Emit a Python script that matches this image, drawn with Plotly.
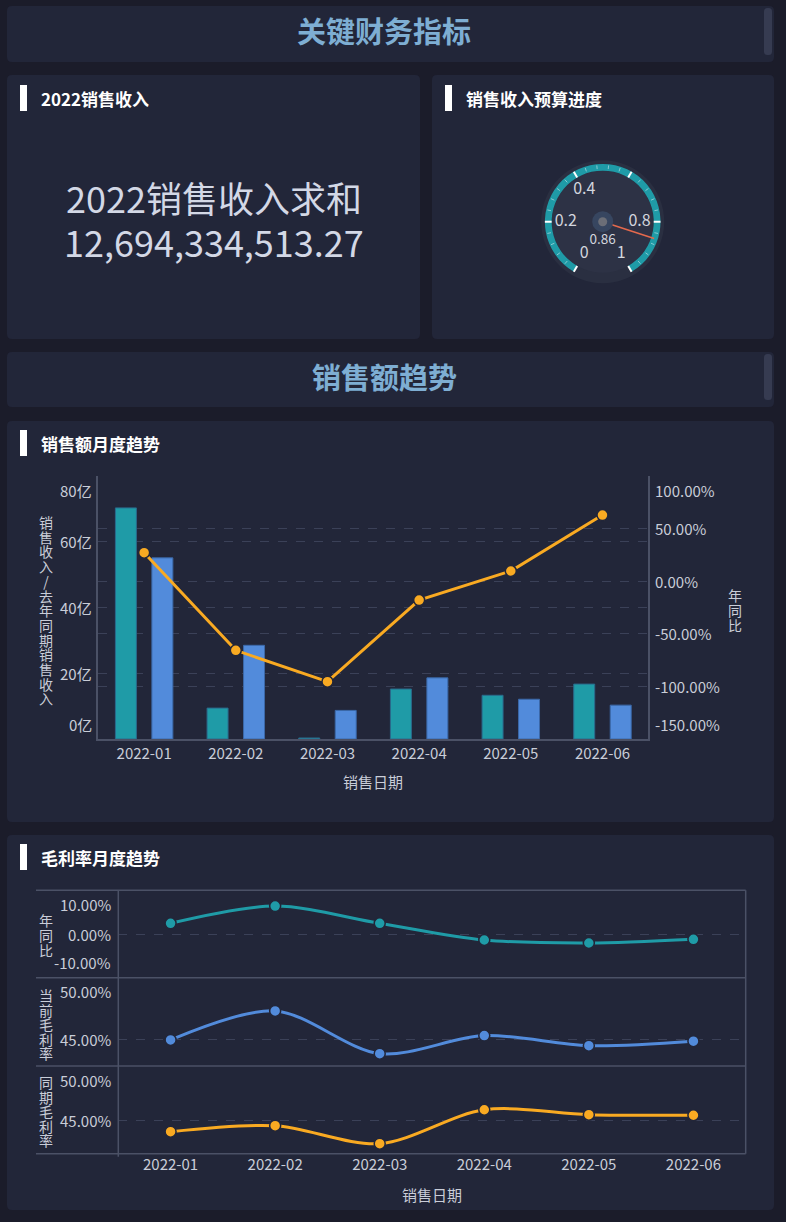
import plotly.graph_objects as go

W, H = 786, 1222
PAGE_BG = "#1b1c2a"
PANEL_BG = "#222639"
THUMB = "#363b51"
TEAL = "#1f9ba7"
BLUE = "#528bdb"
ORANGE = "#f9aa22"
TXT = "#c9cdd8"
GRID = "#3b4158"
FRAME = "#4b5166"
FONT = "Noto Sans CJK SC"

# ---------------- data ----------------
months = ["2022-01", "2022-02", "2022-03", "2022-04", "2022-05", "2022-06"]
sales_2022 = [70.3e8, 9.4e8, 0.3e8, 15.2e8, 13.3e8, 16.7e8]
sales_2021 = [55.1e8, 28.5e8, 8.7e8, 18.6e8, 12.1e8, 10.3e8]
sales_yoy = [0.271, -0.657, -0.955, -0.179, 0.097, 0.629]
sales_ticks = [0, 20e8, 40e8, 60e8, 80e8]
yoy_ticks = [-1.5, -1.0, -0.5, 0.0, 0.5, 1.0]

gm_yoy = [0.0245, 0.0640, 0.0245, -0.0137, -0.0206, -0.0121]
gm_current = [0.4500, 0.4733, 0.4390, 0.4535, 0.4454, 0.4490]
gm_last = [0.4392, 0.4447, 0.4281, 0.4595, 0.4549, 0.4544]
gm_yoy_range = [-0.10, 0.10]
gm_cur_range = [0.4291, 0.50]
gm_last_range = [0.4188, 0.50]
gm_yoy_ticks = [-0.10, 0.0, 0.10]
gm_cur_ticks = [0.45, 0.50]
gm_last_ticks = [0.45, 0.50]

kpi_title = "2022销售收入求和"
kpi_value = "12,694,334,513.27"
budget_progress = 0.86
gauge_major = [0, 0.2, 0.4, 0.6, 0.8, 1.0]
gauge_shown_labels = [0, 0.2, 0.4, 0.8, 1.0]
GAUGE_SWEEP = 300  # degrees

# ---------------- helpers ----------------
def fx(x):
    return x / W

def fy(y):
    return 1 - y / H

def rrect(x0, y0, x1, y1, r, color):
    X, Y = fx, fy
    p = (f"M {X(x0+r)},{Y(y0)} L {X(x1-r)},{Y(y0)} Q {X(x1)},{Y(y0)} {X(x1)},{Y(y0+r)} "
         f"L {X(x1)},{Y(y1-r)} Q {X(x1)},{Y(y1)} {X(x1-r)},{Y(y1)} "
         f"L {X(x0+r)},{Y(y1)} Q {X(x0)},{Y(y1)} {X(x0)},{Y(y1-r)} "
         f"L {X(x0)},{Y(y0+r)} Q {X(x0)},{Y(y0)} {X(x0+r)},{Y(y0)} Z")
    return dict(type="path", xref="paper", yref="paper", path=p, fillcolor=color,
                line=dict(width=0), layer="below")

annotations = []

def ann(text, x, y, size=15, color=TXT, xanchor="center", yanchor="middle",
        xref="paper", yref="paper", yshift=0, bold=False):
    annotations.append(dict(
        text=f"<b>{text}</b>" if bold else text, x=x, y=y, xref=xref, yref=yref,
        xanchor=xanchor, yanchor=yanchor, yshift=yshift, showarrow=False,
        font=dict(family=FONT, size=size, color=color)))

def vtext(text, xpx, ycenter, spacing, size=14):
    # vertical (stacked) text: line spacing set by base font, glyphs drawn at `size`
    base = spacing / 1.3
    body = "<br>".join(f'<span style="font-size:{size}px">{ch}</span>' for ch in text)
    ann(body, fx(xpx), fy(ycenter), size=base)

shapes = []
# panels
for (x0, y0, x1, y1) in [(7, 6, 774, 62), (7, 75, 420, 339), (432, 75, 774, 339),
                         (7, 352, 774, 407), (7, 421, 774, 822), (7, 835, 774, 1210)]:
    shapes.append(rrect(x0, y0, x1, y1, 5, PANEL_BG))
# scroll thumbs in header panels
shapes.append(rrect(764, 8, 772, 55, 3.5, THUMB))
shapes.append(rrect(764, 354, 772, 400, 3.5, THUMB))
# title accent bars
for (x0, y0) in [(20, 85), (445, 85), (20, 430), (20, 844)]:
    shapes.append(dict(type="rect", xref="paper", yref="paper", x0=fx(x0), x1=fx(x0 + 7),
                       y0=fy(y0), y1=fy(y0 + 26), fillcolor="#ffffff", line=dict(width=0),
                       layer="below"))

# headers & panel titles
ann("关键财务指标", fx(384), fy(30), size=29, color="#7eaed3", bold=True)
ann("销售额趋势", fx(384), fy(376), size=29, color="#7eaed3", bold=True)
ann("2022销售收入", fx(38.5), fy(98), size=17, color="#ffffff", xanchor="left", bold=True)
ann("销售收入预算进度", fx(463.5), fy(98), size=17, color="#ffffff", xanchor="left", bold=True)
ann("销售额月度趋势", fx(38.5), fy(443), size=17, color="#ffffff", xanchor="left", bold=True)
ann("毛利率月度趋势", fx(38.5), fy(857), size=17, color="#ffffff", xanchor="left", bold=True)

# KPI
ann(kpi_title, fx(213.5), fy(197), size=36, color="#d3d8e6")
ann(kpi_value, fx(213.5), fy(241), size=36, color="#d3d8e6")

fig = go.Figure()

# ---------------- gauge (polar) ----------------
GCX, GCY, GR = 602.7, 221.7, 61.5
shapes.append(dict(type="circle", xref="paper", yref="paper",
                   x0=fx(GCX - GR), x1=fx(GCX + GR), y0=fy(GCY + GR), y1=fy(GCY - GR),
                   fillcolor="#2a2f41", line=dict(width=0), layer="below"))
shapes.append(dict(type="circle", xref="paper", yref="paper",
                   x0=fx(GCX - GR * 0.83), x1=fx(GCX + GR * 0.83),
                   y0=fy(GCY + GR * 0.83), y1=fy(GCY - GR * 0.83),
                   fillcolor="#2d3245", line=dict(width=0), layer="below"))

fig.add_trace(go.Barpolar(r=[0.11], base=[0.83], theta=[GAUGE_SWEEP / 2], width=[GAUGE_SWEEP],
                          marker=dict(color=TEAL, line=dict(width=0)), subplot="polar",
                          hoverinfo="skip"))
minor_r, minor_t = [], []
for i in range(26):
    v = i / 25
    if i % 5:
        minor_r += [0.86, 0.92, None]
        minor_t += [v * GAUGE_SWEEP, v * GAUGE_SWEEP, None]
fig.add_trace(go.Scatterpolar(r=minor_r, theta=minor_t, mode="lines", subplot="polar",
                              line=dict(color="rgba(220,240,245,0.55)", width=1),
                              hoverinfo="skip"))
major_r, major_t = [], []
for v in gauge_major:
    major_r += [0.83, 0.94, None]
    major_t += [v * GAUGE_SWEEP, v * GAUGE_SWEEP, None]
fig.add_trace(go.Scatterpolar(r=major_r, theta=major_t, mode="lines", subplot="polar",
                              line=dict(color="#ffffff", width=2), hoverinfo="skip"))
fig.add_trace(go.Scatterpolar(r=[0.6] * len(gauge_shown_labels),
                              theta=[v * GAUGE_SWEEP for v in gauge_shown_labels],
                              text=[f"{v:g}" for v in gauge_shown_labels], mode="text",
                              textfont=dict(family=FONT, size=16, color="#d3d6de"),
                              subplot="polar", hoverinfo="skip"))
fig.add_trace(go.Scatterpolar(r=[0, 0.88], theta=[budget_progress * GAUGE_SWEEP] * 2,
                              mode="lines", line=dict(color="#e4694d", width=1.5),
                              subplot="polar", hoverinfo="skip"))
fig.add_trace(go.Scatterpolar(r=[0], theta=[0], mode="markers", subplot="polar",
                              marker=dict(size=21, color="#374660"), hoverinfo="skip"))
fig.add_trace(go.Scatterpolar(r=[0], theta=[0], mode="markers", subplot="polar",
                              marker=dict(size=9, color="#6b6e77"), hoverinfo="skip"))
fig.add_trace(go.Scatterpolar(r=[0.31], theta=[330], text=[f"{budget_progress:g}"],
                              mode="text", textfont=dict(family=FONT, size=13.5, color="#d3d6de"),
                              subplot="polar", hoverinfo="skip"))

# ---------------- bar + line chart ----------------
fig.add_trace(go.Bar(x=months, y=sales_2022, name="销售收入", xaxis="x", yaxis="y",
                     marker=dict(color=TEAL, line=dict(color="#2a6a8c", width=1))))
fig.add_trace(go.Bar(x=months, y=sales_2021, name="去年同期销售收入", xaxis="x", yaxis="y",
                     marker=dict(color=BLUE, line=dict(color="#3b68a8", width=1))))
fig.add_trace(go.Scatter(x=months, y=sales_yoy, name="年同比", xaxis="x", yaxis="y2",
                         mode="lines+markers", line=dict(color=ORANGE, width=3),
                         marker=dict(size=11, color=ORANGE, line=dict(color=PANEL_BG, width=1.5))))

for v in sales_ticks:
    sh = 15 if v == sales_ticks[0] else (-14 if v == sales_ticks[-1] else 0)
    ann(f"{v/1e8:.0f}亿", fx(93.5), v, xanchor="right", yref="y", yshift=sh)
for v in yoy_ticks:
    sh = 15 if v == yoy_ticks[0] else (-14 if v == yoy_ticks[-1] else 0)
    ann(f"{v*100:.2f}%", fx(653), v, xanchor="left", yref="y2", yshift=sh)
vtext("销售收入/去年同期销售收入", 46, 610, 14.7)
vtext("年同比", 735, 610, 15)
ann("销售日期", fx(373), fy(781), size=15)

# ---------------- gross margin stacked grids ----------------
series = [(gm_yoy, TEAL, "x3", "y3"), (gm_current, BLUE, "x4", "y4"), (gm_last, ORANGE, "x5", "y5")]
for vals, col, xa, ya in series:
    fig.add_trace(go.Scatter(x=months, y=vals, xaxis=xa, yaxis=ya, mode="lines+markers",
                             line=dict(color=col, width=3, shape="spline", smoothing=0.9),
                             marker=dict(size=11, color=col, line=dict(color=PANEL_BG, width=1.5))))

for ticks, rng, ya in [(gm_yoy_ticks, gm_yoy_range, "y3"), (gm_cur_ticks, gm_cur_range, "y4"),
                       (gm_last_ticks, gm_last_range, "y5")]:
    for v in ticks:
        sh = 15 if v <= rng[0] else (-14 if v >= rng[1] else 0)
        ann(f"{v*100:.2f}%", fx(113), v, xanchor="right", yref=ya, yshift=sh)
vtext("年同比", 46, 935, 15)
vtext("当前毛利率", 46, 1024, 14.6)
vtext("同期毛利率", 46, 1111, 14.6)
ann("销售日期", fx(432), fy(1194), size=15)

GL, GRt = 118.3, 745.7
G_TOP, G_1, G_2, G_BOT = 890.3, 977.7, 1066.0, 1153.7
for yy in [G_TOP, G_1, G_2, G_BOT]:
    shapes.append(dict(type="line", xref="paper", yref="paper", x0=fx(36), x1=fx(GRt),
                       y0=fy(yy), y1=fy(yy), line=dict(color=FRAME, width=1.5), layer="above"))
shapes.append(dict(type="line", xref="paper", yref="paper", x0=fx(GL), x1=fx(GL),
                   y0=fy(G_TOP), y1=fy(G_BOT + 3), line=dict(color=FRAME, width=1.5), layer="above"))
shapes.append(dict(type="line", xref="paper", yref="paper", x0=fx(GRt), x1=fx(GRt),
                   y0=fy(G_TOP), y1=fy(G_BOT), line=dict(color=FRAME, width=1.5), layer="above"))

# ---------------- layout ----------------
tickfont = dict(family=FONT, size=15, color=TXT)
common_y = dict(showticklabels=False, showgrid=True, gridcolor=GRID, griddash="dash",
                gridwidth=1, zeroline=False, ticks="")
cat_range = [-0.5, len(months) - 0.5]
xcat = dict(type="category", showgrid=False, zeroline=False, ticks="", tickfont=tickfont)

fig.update_layout(
    width=W, height=H, margin=dict(l=0, r=0, t=0, b=0),
    paper_bgcolor=PAGE_BG, plot_bgcolor="rgba(0,0,0,0)",
    showlegend=False, hovermode=False,
    barmode="group", bargap=0.204, bargroupgap=0.425,
    font=dict(family=FONT, color=TXT),
    xaxis=dict(domain=[fx(98.3), fx(648.3)], anchor="y", showline=True, linecolor=FRAME,
               linewidth=1.5, range=cat_range, **xcat),
    yaxis=dict(domain=[fy(739), fy(476)], anchor="x", range=[0, sales_ticks[-1]],
               tickvals=sales_ticks, showline=True, linecolor=FRAME, linewidth=1.5, **common_y),
    yaxis2=dict(overlaying="y", side="right", anchor="x", range=[yoy_ticks[0], yoy_ticks[-1]],
                tickvals=yoy_ticks, showline=True, linecolor=FRAME, linewidth=1.5, **common_y),
    xaxis3=dict(domain=[fx(GL), fx(GRt)], anchor="y3", range=cat_range, showticklabels=False, **xcat),
    xaxis4=dict(domain=[fx(GL), fx(GRt)], anchor="y4", range=cat_range, showticklabels=False, **xcat),
    xaxis5=dict(domain=[fx(GL), fx(GRt)], anchor="y5", range=cat_range, showticklabels=True, **xcat),
    yaxis3=dict(domain=[fy(G_1), fy(G_TOP)], anchor="x3", range=gm_yoy_range, tickvals=[0.0],
                **common_y),
    yaxis4=dict(domain=[fy(G_2), fy(G_1)], anchor="x4", range=gm_cur_range, tickvals=[0.45],
                **common_y),
    yaxis5=dict(domain=[fy(G_BOT), fy(G_2)], anchor="x5", range=gm_last_range, tickvals=[0.45],
                **common_y),
    polar=dict(domain=dict(x=[fx(GCX - GR), fx(GCX + GR)], y=[fy(GCY + GR), fy(GCY - GR)]),
               bgcolor="rgba(0,0,0,0)", barmode="overlay", hole=0,
               radialaxis=dict(range=[0, 1], visible=False),
               angularaxis=dict(visible=False, rotation=240, direction="clockwise")),
    shapes=shapes, annotations=annotations,
)

fig.write_html("out.html", config={"displayModeBar": False},
               post_script="document.body.style.margin='0';document.body.style.overflow='hidden';"
                           "document.body.style.background='#1b1c2a';")
